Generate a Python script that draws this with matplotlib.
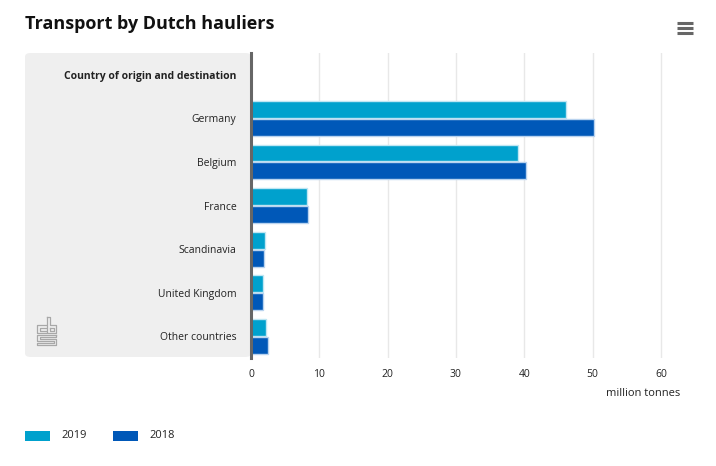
import numpy as np
import matplotlib.pyplot as plt
from matplotlib.patches import FancyBboxPatch, Rectangle
from matplotlib.lines import Line2D

plt.rcParams['font.family'] = ['Open Sans', 'DejaVu Sans']

header = 'Country of origin and destination'
countries = ['Germany', 'Belgium', 'France', 'Scandinavia', 'United Kingdom', 'Other countries']
series_names = ['2019', '2018']
values_2019 = [46.1, 39.1, 8.2, 2.1, 1.8, 2.2]
values_2018 = [50.2, 40.3, 8.4, 1.9, 1.8, 2.5]
colors = ['#00a1cd', '#0058b8']
xticks = [0, 10, 20, 30, 40, 50, 60]

W, H = 716, 466
fig = plt.figure(figsize=(W / 100, H / 100), dpi=100)

def fx(px):
    return px / W

def fy(py):
    return 1 - py / H

# grey panel behind category labels
panel = FancyBboxPatch((fx(25), fy(357)), fx(251) - fx(25), fy(53) - fy(357),
                       boxstyle='round,pad=0,rounding_size=0.008',
                       transform=fig.transFigure, facecolor='#efefef',
                       edgecolor='none', zorder=-1)
fig.patches.append(panel)

ax = fig.add_axes([fx(251), fy(358), fx(680) - fx(251), fy(53) - fy(358)])
ax.set_facecolor('none')
ax.set_zorder(2)

labels = [header] + countries
y = np.arange(len(labels))
yc = y[1:]
h = 0.39
ax.barh(yc - 0.205, values_2019, height=h, color=colors[0], edgecolor='#bfe6f3',
        linewidth=1, zorder=3, label=series_names[0])
ax.barh(yc + 0.205, values_2018, height=h, color=colors[1], edgecolor='#b9d3ef',
        linewidth=1, zorder=3, label=series_names[1])

ax.set_ylim(len(labels) - 0.5, -0.5)
ax.set_xlim(0, 62.8)
ax.set_yticks(y)
ax.set_yticklabels(labels, fontsize=7.5, color='#222222')
ax.get_yticklabels()[0].set_fontweight('bold')
ax.set_xticks(xticks)
ax.set_xticklabels([str(t) for t in xticks], fontsize=7.5, color='#222222')
ax.tick_params(axis='y', length=0, pad=10.5)
ax.tick_params(axis='x', length=0, pad=8)
ax.grid(axis='x', color='#e8e8e8', linewidth=1, zorder=0)
for s in ['top', 'right', 'bottom']:
    ax.spines[s].set_visible(False)
ax.spines['left'].set_color('#666666')
ax.spines['left'].set_linewidth(2.2)
ax.spines['left'].set_zorder(4)

fig.text(fx(680), fy(393), 'million tonnes', fontsize=8, color='#222222',
         ha='right', va='center')

# title
fig.text(fx(25), fy(24), 'Transport by Dutch hauliers', fontsize=13,
         fontweight='bold', color='#111111', ha='left', va='center')

# menu icon
for py in [23, 28, 33]:
    fig.lines.append(Line2D([fx(677), fx(693)], [fy(py), fy(py)],
                            transform=fig.transFigure, color='#666666',
                            linewidth=2.2, solid_capstyle='butt'))

# cbs logo (rough line drawing)
logo_paths = [
    [(46, 325), (37, 325), (37, 333), (46, 333)],
    [(46, 327.5), (39.5, 327.5), (39.5, 330.5), (46, 330.5)],
    [(47, 317), (47, 333), (56, 333), (56, 325), (49.5, 325), (49.5, 317), (47, 317)],
    [(49.5, 327.5), (53.5, 327.5), (53.5, 330.5), (49.5, 330.5), (49.5, 327.5)],
    [(56, 335), (37, 335), (37, 341), (53.5, 341), (53.5, 343), (37, 343), (37, 345), (56, 345),
     (56, 339), (39.5, 339), (39.5, 337), (56, 337), (56, 335)],
]
for path in logo_paths:
    xs = [fx(p[0]) for p in path]
    ys = [fy(p[1]) for p in path]
    fig.lines.append(Line2D(xs, ys, transform=fig.transFigure, color='#a8a8a8',
                            linewidth=0.9))

# legend
leg_x = [25, 113]
for i, name in enumerate(series_names):
    fig.patches.append(Rectangle((fx(leg_x[i]), fy(441)), fx(25), fy(431) - fy(441),
                                 transform=fig.transFigure, facecolor=colors[i],
                                 edgecolor='none'))
    fig.text(fx(leg_x[i] + 36), fy(436), name, fontsize=8, color='#222222',
             ha='left', va='center')

fig.savefig('out.png', dpi=100)
